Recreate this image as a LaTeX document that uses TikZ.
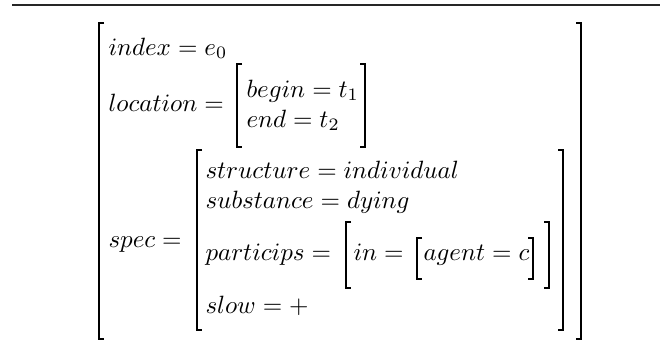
\documentclass[tikz,border=0pt]{standalone}
\usepackage{amsmath}

\begin{document}
\begin{tikzpicture}[x=0.4pt,y=-0.4pt,
    brk/.style={line width=0.7pt},
    avm/.style={anchor=base west,inner sep=0pt}]

\useasboundingbox (0,0) rectangle (667,341);

% ============================================
% TOP RULE
% ============================================
        \draw[line width=0.8pt,black!85] (12,5) -- (660,5);

% ============================================
% OUTER MATRIX
% ============================================
        % Brackets
        \draw[brk] (104,23) -| (99,339) -- ++(5,0);
        \draw[brk] (576,23) -| (581,339) -- ++(-5,0);
        % Features
        \node[avm] (index) at (108,55) {$index = e_0$};
        \node[avm] (location) at (108,111) {$location =$};
        \node[avm] (spec) at (108,247) {$spec =$};

% ============================================
% LOCATION VALUE
% ============================================
        \draw[brk] (242,64) -| (237,147) -- ++(5,0);
        \draw[brk] (360,64) -| (365,147) -- ++(-5,0);
        \node[avm] (begin) at (246,97) {$begin = t_1$};
        \node[avm] (end) at (246,127) {$end = t_2$};

% ============================================
% SPEC VALUE
% ============================================
        \draw[brk] (202,150) -| (197,330) -- ++(5,0);
        \draw[brk] (558,150) -| (563,330) -- ++(-5,0);
        \node[avm] (structure) at (205,178) {$structure = individual$};
        \node[avm] (substance) at (205,208) {$substance = dying$};
        \node[avm] (particips) at (205,260) {$particips =$};
        \node[avm] (slow) at (205,313) {$slow = +$};
        % Particips value
        \draw[brk] (351,222) -| (346,288) -- ++(5,0);
        \draw[brk] (544,222) -| (549,288) -- ++(-5,0);
        \node[avm] (in) at (353,260) {$in =$};
        % In value
        \draw[brk] (422,238) -| (417,279) -- ++(5,0);
        \draw[brk] (528,238) -| (533,279) -- ++(-5,0);
        \node[avm] (agent) at (423,260) {$agent = c$};
\end{tikzpicture}
\end{document}
